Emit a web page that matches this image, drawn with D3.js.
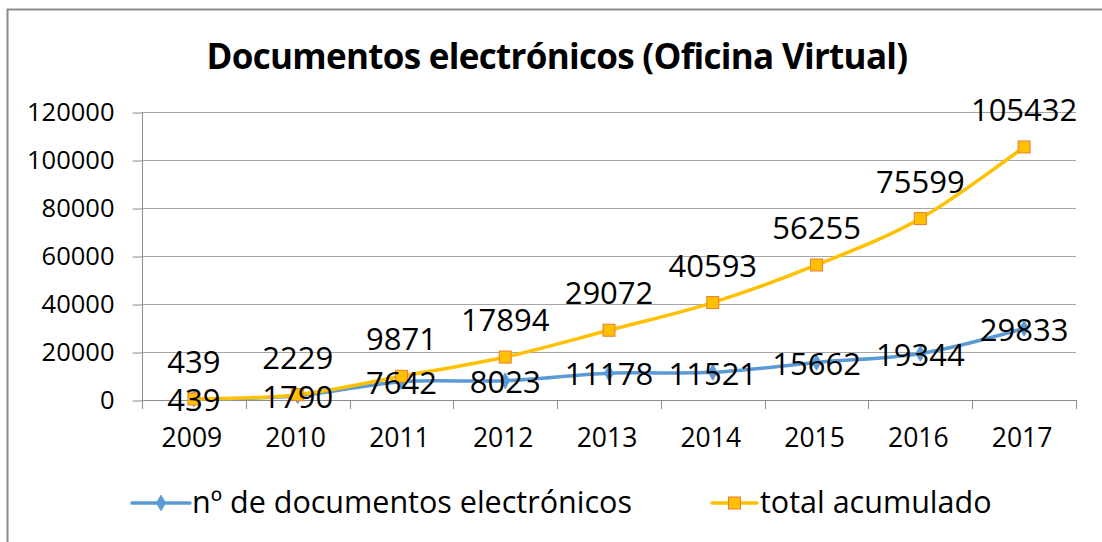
<!DOCTYPE html>
<html>
<head>
<meta charset="utf-8">
<script src="https://cdn.jsdelivr.net/npm/d3@7"></script>
<style>
  html, body { margin: 0; padding: 0; background: #fff; }
  svg { display: block; font-family: "Open Sans", "Noto Sans", sans-serif; }
</style>
</head>
<body>
<svg id="chart" width="1102" height="542"></svg>
<script>
// Chart data
const years = ["2009", "2010", "2011", "2012", "2013", "2014", "2015", "2016", "2017"];
const docsPerYear = [439, 1790, 7642, 8023, 11178, 11521, 15662, 19344, 29833];
const totalAccumulated = [439, 2229, 9871, 17894, 29072, 40593, 56255, 75599, 105432];
const yTicks = [0, 20000, 40000, 60000, 80000, 100000, 120000];
const seriesNames = ["nº de documentos electrónicos", "total acumulado"];
const titleText = "Documentos electrónicos (Oficina Virtual)";

const BLUE = "#5B9BD5", YELLOW = "#FFC000", ORANGE = "#ED7D31";
const GRID = "#a6a6a6", AXIS = "#8c8c8c";

const svg = d3.select("#chart");
const plot = { left: 142, right: 1076, top: 112, bottom: 400 };

const x = d3.scaleBand().domain(years).range([plot.left, plot.right]).padding(0);
const y = d3.scaleLinear().domain([0, 120000]).range([plot.bottom, plot.top]);
const cx = d => x(d) + x.bandwidth() / 2;

// Outer chart frame
svg.append("rect")
  .attr("x", 7.5).attr("y", 9.5)
  .attr("width", 1200).attr("height", 700)
  .attr("fill", "none").attr("stroke", AXIS).attr("stroke-width", 2);

// Title
svg.append("text")
  .attr("x", 557).attr("y", 69)
  .attr("text-anchor", "middle")
  .attr("font-size", 35).attr("font-weight", 700)
  .attr("letter-spacing", -0.7)
  .attr("fill", "#000")
  .text(titleText);

// Horizontal gridlines
svg.append("g").selectAll("line").data(yTicks.slice(1)).join("line")
  .attr("x1", plot.left).attr("x2", plot.right)
  .attr("y1", d => Math.round(y(d)) + 0.5).attr("y2", d => Math.round(y(d)) + 0.5)
  .attr("stroke", GRID).attr("stroke-width", 1);

// Y axis
const yAxis = d3.axisLeft(y).tickValues(yTicks).tickSize(10).tickPadding(18)
  .tickFormat(d3.format("d"));
const gy = svg.append("g").attr("transform", `translate(${plot.left + 0.5},0.5)`).call(yAxis);
gy.select(".domain").attr("stroke", AXIS).attr("d", `M0,${plot.top}V${plot.bottom}`);
gy.selectAll(".tick line").attr("stroke", AXIS);
gy.selectAll(".tick text").attr("font-size", 25.5).attr("fill", "#000")
  .attr("font-family", "'Open Sans', sans-serif");

// X axis with ticks at category boundaries
const gx = svg.append("g");
gx.append("line")
  .attr("x1", plot.left).attr("x2", plot.right)
  .attr("y1", plot.bottom + 0.5).attr("y2", plot.bottom + 0.5)
  .attr("stroke", AXIS);
const boundaries = years.map(d => x(d)).concat([plot.right]);
gx.selectAll("line.tk").data(boundaries).join("line").attr("class", "tk")
  .attr("x1", d => Math.round(d) + 0.5).attr("x2", d => Math.round(d) + 0.5)
  .attr("y1", plot.bottom).attr("y2", plot.bottom + 9)
  .attr("stroke", AXIS);
gx.selectAll("text").data(years).join("text")
  .attr("x", d => cx(d) - 2).attr("y", 447)
  .attr("text-anchor", "middle").attr("font-size", 26.5).attr("fill", "#000")
  .text(d => d);

// Smoothed lines
const line = d3.line().curve(d3.curveCatmullRom.alpha(0))
  .x((d, i) => cx(years[i])).y(d => y(d));

svg.append("path").datum(docsPerYear)
  .attr("d", line).attr("fill", "none")
  .attr("stroke", BLUE).attr("stroke-width", 3.5).attr("stroke-linecap", "round");

svg.append("path").datum(totalAccumulated)
  .attr("d", line).attr("fill", "none")
  .attr("stroke", YELLOW).attr("stroke-width", 3.5).attr("stroke-linecap", "round");

// Markers
const diamond = d3.symbol().type(d3.symbolDiamond).size(70);
svg.append("g").selectAll("path").data(docsPerYear).join("path")
  .attr("d", diamond)
  .attr("transform", (d, i) => `translate(${cx(years[i])},${y(d)})`)
  .attr("fill", BLUE).attr("stroke", BLUE);

const sq = 12;
svg.append("g").selectAll("rect").data(totalAccumulated).join("rect")
  .attr("x", (d, i) => cx(years[i]) - sq / 2)
  .attr("y", d => y(d) - sq / 2)
  .attr("width", sq).attr("height", sq)
  .attr("fill", YELLOW).attr("stroke", ORANGE).attr("stroke-width", 1);

// Data labels: accumulated total above, yearly count centred on point
const labelSize = 31;
svg.append("g").selectAll("text").data(totalAccumulated).join("text")
  .attr("x", (d, i) => cx(years[i]))
  .attr("y", d => y(d) - 37)
  .attr("dy", "0.36em")
  .attr("text-anchor", "middle").attr("font-size", labelSize).attr("fill", "#000")
  .text(d => d);

svg.append("g").selectAll("text").data(docsPerYear).join("text")
  .attr("x", (d, i) => cx(years[i]))
  .attr("y", d => y(d) + 1)
  .attr("dy", "0.36em")
  .attr("text-anchor", "middle").attr("font-size", labelSize).attr("fill", "#000")
  .text(d => d);

// Legend
const legend = svg.append("g");
const legendItems = [
  { name: seriesNames[0], color: BLUE, x0: 132, x1: 190, tx: 192, marker: "diamond" },
  { name: seriesNames[1], color: YELLOW, x0: 712, x1: 757, tx: 760, marker: "square" }
];
const ly = 503;
legendItems.forEach(it => {
  legend.append("line")
    .attr("x1", it.x0).attr("x2", it.x1).attr("y1", ly).attr("y2", ly)
    .attr("stroke", it.color).attr("stroke-width", 3.5).attr("stroke-linecap", "round");
  const mx = (it.x0 + it.x1) / 2;
  if (it.marker === "diamond") {
    legend.append("path").attr("d", diamond)
      .attr("transform", `translate(${mx},${ly})`)
      .attr("fill", BLUE).attr("stroke", BLUE);
  } else {
    legend.append("rect")
      .attr("x", mx - sq / 2).attr("y", ly - sq / 2).attr("width", sq).attr("height", sq)
      .attr("fill", YELLOW).attr("stroke", ORANGE);
  }
  legend.append("text")
    .attr("x", it.tx).attr("y", ly).attr("dy", "0.33em")
    .attr("font-size", 30.5).attr("fill", "#000")
    .text(it.name);
});
</script>
</body>
</html>
